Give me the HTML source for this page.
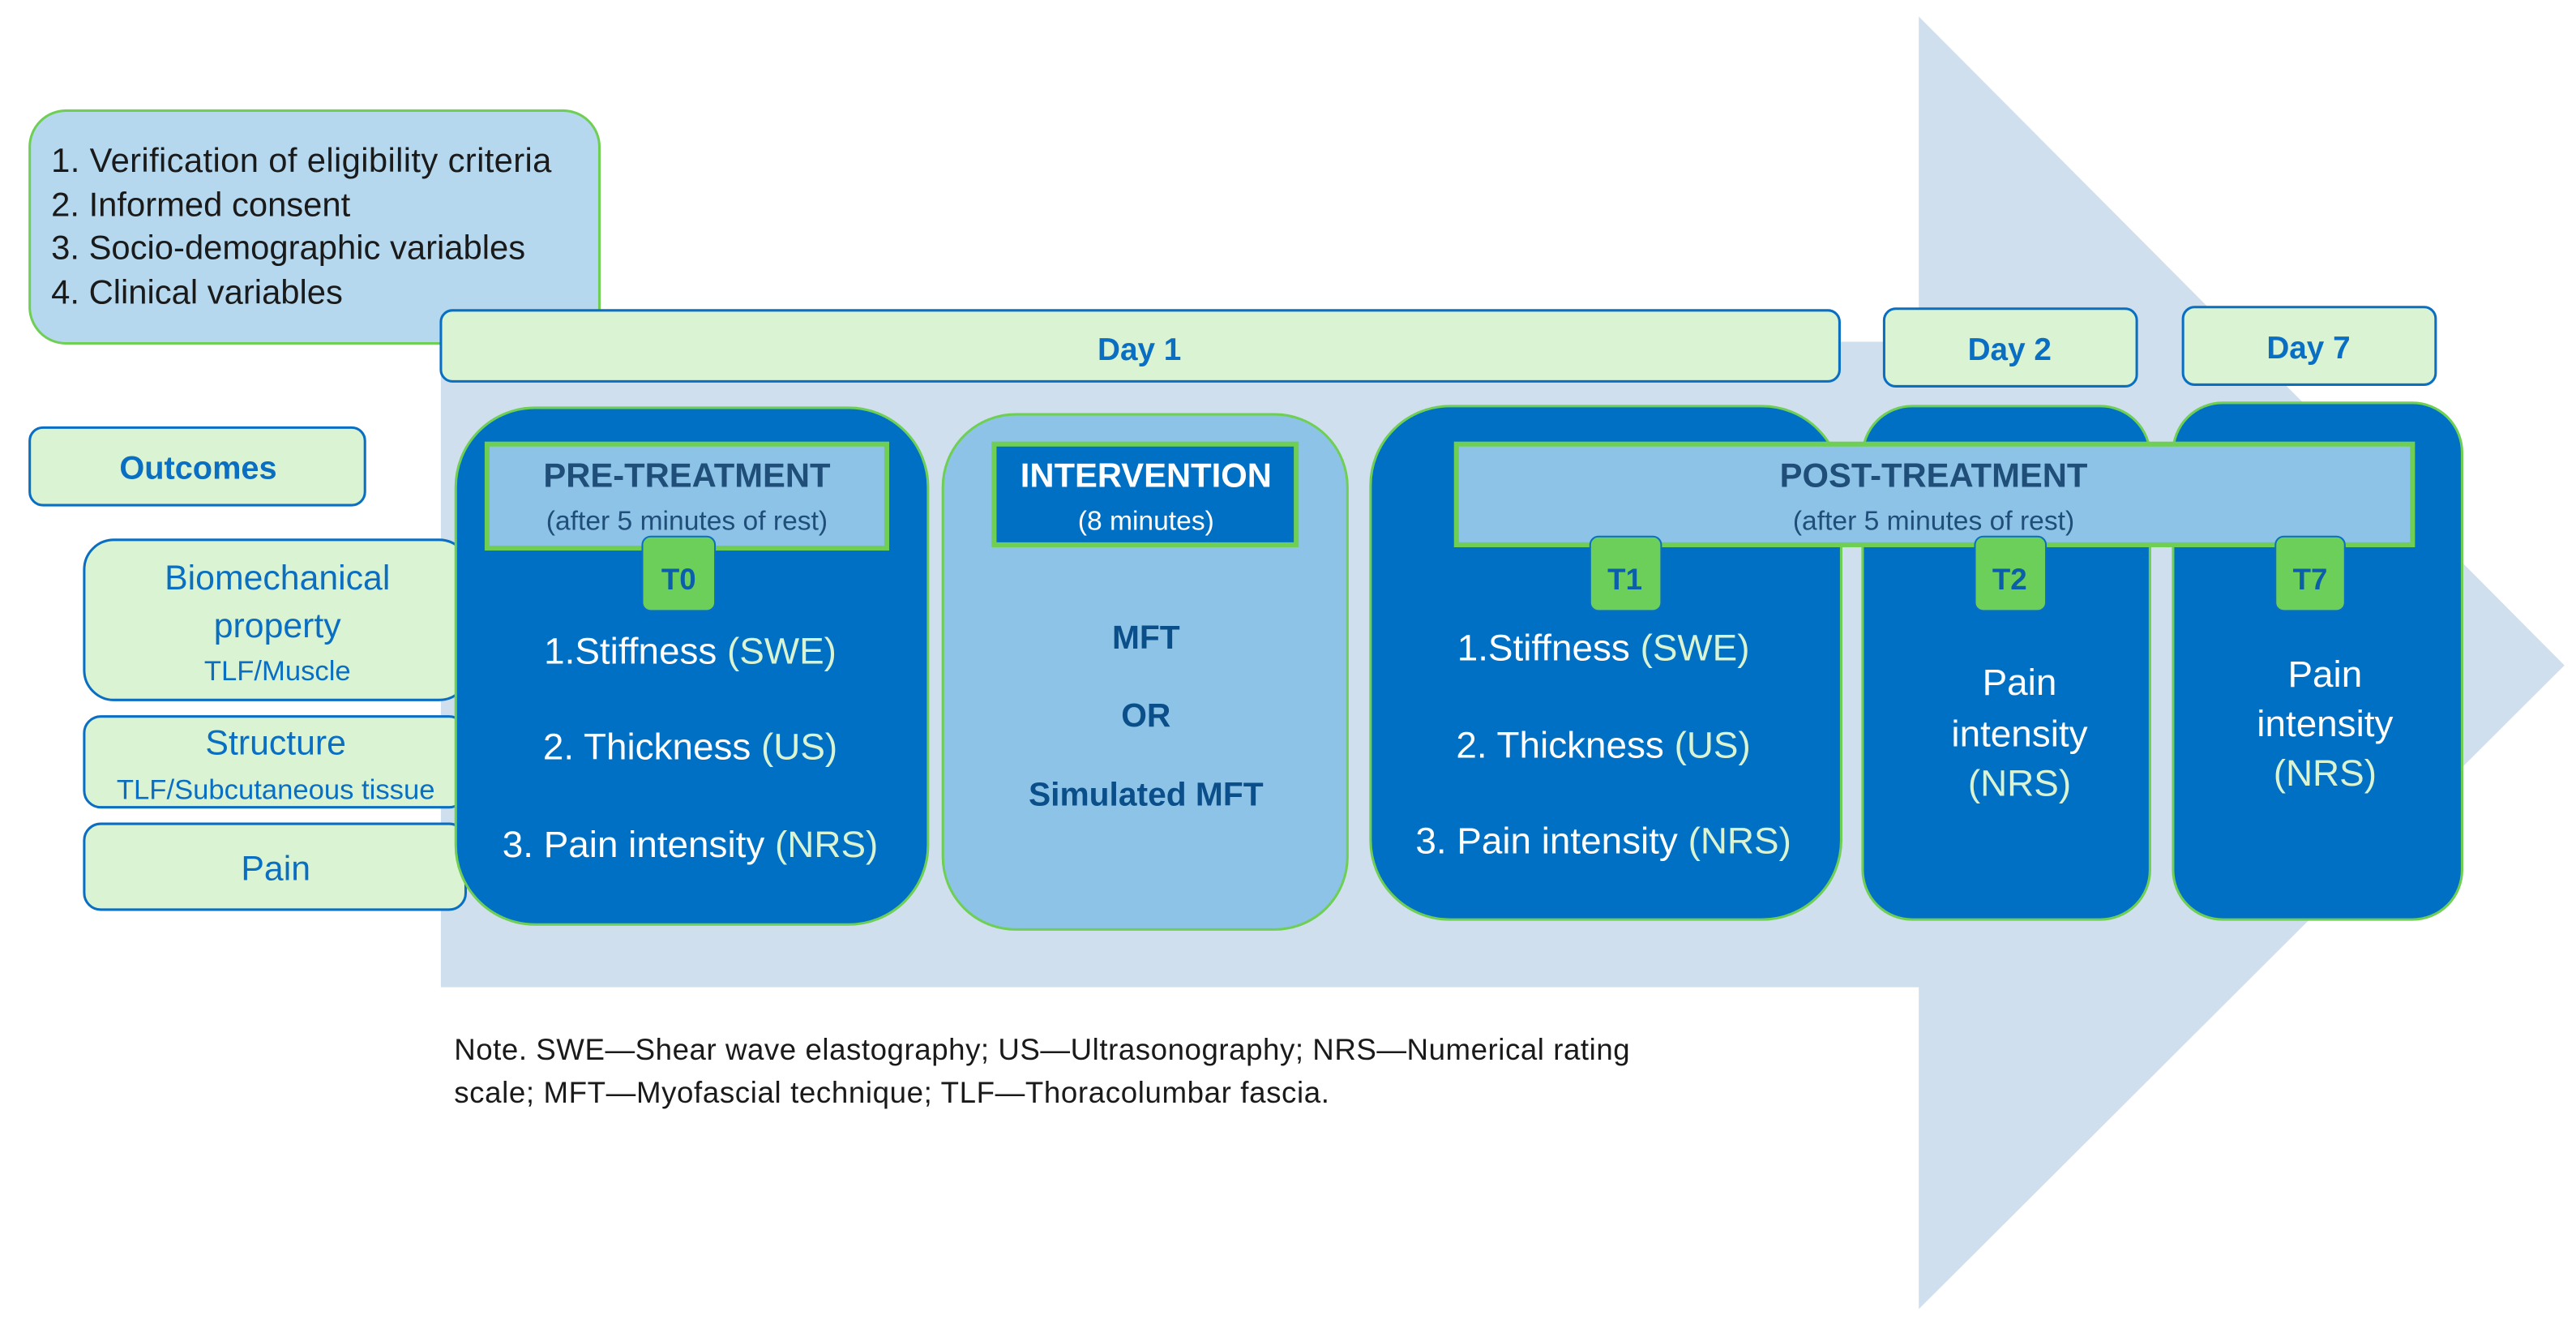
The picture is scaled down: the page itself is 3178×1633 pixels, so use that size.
<!DOCTYPE html>
<html><head><meta charset="utf-8"><style>
html,body{margin:0;padding:0;background:#fff}
svg{display:block}
text{font-family:"Liberation Sans",sans-serif}
</style></head><body>
<svg width="3178" height="1633" viewBox="0 0 1560 802" preserveAspectRatio="none" xmlns="http://www.w3.org/2000/svg">
<polygon points="267,207 1162,207 1162,10 1553,403 1162,793 1162,598 267,598" fill="#cfdfee"/>
<rect x="18" y="67" width="345" height="141" rx="22" fill="#b5d8ef" stroke="#6fcf55" stroke-width="1.5"/>
<g font-size="20.5" fill="#1a1a1a">
<text x="31" y="104" textLength="303">1. Verification of eligibility criteria</text>
<text x="31" y="131">2. Informed consent</text>
<text x="31" y="157">3. Socio-demographic variables</text>
<text x="31" y="184">4. Clinical variables</text>
</g>
<g fill="#d9f3d3" stroke="#0a6fc2" stroke-width="1.5">
<rect x="267" y="188" width="847" height="43" rx="7"/>
<rect x="1141" y="187" width="153" height="47" rx="7"/>
<rect x="1322" y="186" width="153" height="47" rx="7"/>
</g>
<g font-size="19" font-weight="bold" fill="#0a6fc2" text-anchor="middle">
<text x="690" y="218">Day 1</text>
<text x="1217" y="218">Day 2</text>
<text x="1398" y="217">Day 7</text>
</g>
<g fill="#d9f3d3" stroke="#0a6fc2" stroke-width="1.5">
<rect x="18" y="259" width="203" height="47" rx="8"/>
<rect x="51" y="327" width="233" height="97" rx="18"/>
<rect x="51" y="434" width="231" height="55" rx="10"/>
<rect x="51" y="499" width="231" height="52" rx="10"/>
</g>
<g fill="#0a6fc2" text-anchor="middle">
<text x="120" y="290" font-size="19.5" font-weight="bold">Outcomes</text>
<text x="168" y="357" font-size="21">Biomechanical</text>
<text x="168" y="386" font-size="21">property</text>
<text x="168" y="412" font-size="17">TLF/Muscle</text>
<text x="167" y="457" font-size="21">Structure</text>
<text x="167" y="484" font-size="17">TLF/Subcutaneous tissue</text>
<text x="167" y="533" font-size="21">Pain</text>
</g>
<g stroke="#6fcf55" stroke-width="1.5">
<rect x="276" y="247" width="286" height="313" rx="48" fill="#0070c4"/>
<rect x="571" y="251" width="245" height="312" rx="44" fill="#8dc3e6"/>
<rect x="830" y="246" width="285" height="311" rx="48" fill="#0070c4"/>
<rect x="1128" y="246" width="174" height="311" rx="30" fill="#0070c4"/>
<rect x="1316" y="244" width="175" height="313" rx="30" fill="#0070c4"/>
</g>
<rect x="295" y="269" width="242" height="63" fill="#8dc3e6" stroke="#6fcf55" stroke-width="3"/>
<rect x="602" y="269" width="183" height="61" fill="#0070c4" stroke="#6fcf55" stroke-width="3"/>
<rect x="882" y="269" width="579" height="61" fill="#8dc3e6" stroke="#6fcf55" stroke-width="3"/>
<g text-anchor="middle">
<text x="416" y="295" font-size="20.5" font-weight="bold" fill="#1f4e79">PRE-TREATMENT</text>
<text x="416" y="321" font-size="16.5" fill="#1f4e79">(after 5 minutes of  rest)</text>
<text x="694" y="295" font-size="20.5" font-weight="bold" fill="#fff">INTERVENTION</text>
<text x="694" y="321" font-size="16.5" fill="#fff">(8 minutes)</text>
<text x="1171" y="295" font-size="20.5" font-weight="bold" fill="#1f4e79">POST-TREATMENT</text>
<text x="1171" y="321" font-size="16.5" fill="#1f4e79">(after 5 minutes of rest)</text>
</g>
<g fill="#6ccf5a" stroke="#0a6fc2" stroke-width="1">
<rect x="389" y="325" width="44" height="45" rx="5"/>
<rect x="963" y="325" width="43" height="45" rx="5"/>
<rect x="1196" y="325" width="43" height="45" rx="5"/>
<rect x="1378" y="325" width="42" height="45" rx="5"/>
</g>
<g font-size="18" font-weight="bold" fill="#0b5fa8" text-anchor="middle">
<text x="411" y="357">T0</text>
<text x="984" y="357">T1</text>
<text x="1217" y="357">T2</text>
<text x="1399" y="357">T7</text>
</g>
<g font-size="22.5" fill="#fff" text-anchor="middle">
<text x="418" y="402">1.Stiffness <tspan fill="#d9f3d3">(SWE)</tspan></text>
<text x="418" y="460">2. Thickness <tspan fill="#d9f3d3">(US)</tspan></text>
<text x="418" y="519">3. Pain intensity <tspan fill="#d9f3d3">(NRS)</tspan></text>
<text x="971" y="400">1.Stiffness <tspan fill="#d9f3d3">(SWE)</tspan></text>
<text x="971" y="459">2. Thickness <tspan fill="#d9f3d3">(US)</tspan></text>
<text x="971" y="517">3. Pain intensity <tspan fill="#d9f3d3">(NRS)</tspan></text>
<text x="1223" y="421">Pain</text>
<text x="1223" y="452">intensity</text>
<text x="1223" y="482" fill="#d9f3d3">(NRS)</text>
<text x="1408" y="416">Pain</text>
<text x="1408" y="446">intensity</text>
<text x="1408" y="476" fill="#d9f3d3">(NRS)</text>
</g>
<g font-size="20" font-weight="bold" fill="#0b4f8a" text-anchor="middle">
<text x="694" y="393">MFT</text>
<text x="694" y="440">OR</text>
<text x="694" y="488">Simulated MFT</text>
</g>
<g font-size="18" fill="#1a1a1a">
<text x="275" y="642" textLength="712">Note. SWE—Shear wave elastography; US—Ultrasonography; NRS—Numerical rating</text>
<text x="275" y="668" textLength="530">scale; MFT—Myofascial technique; TLF—Thoracolumbar fascia.</text>
</g>
</svg>
</body></html>
